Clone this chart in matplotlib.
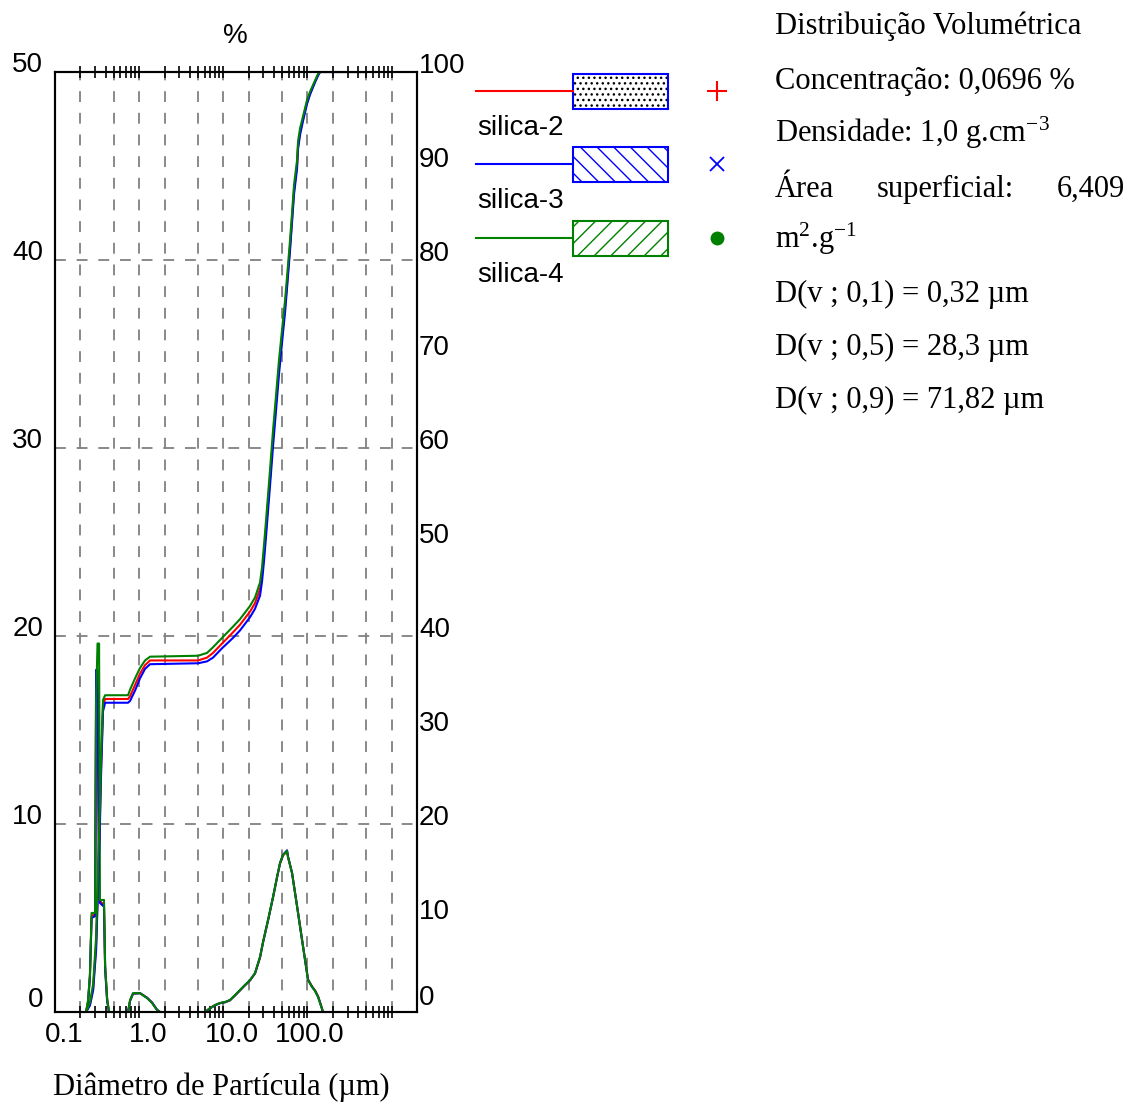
import numpy as np
import matplotlib
matplotlib.use('Agg')
import matplotlib.pyplot as plt
from matplotlib.patches import Rectangle
from matplotlib.ticker import NullFormatter
from matplotlib.transforms import ScaledTranslation

plt.rcParams['font.family'] = ['Liberation Sans', 'DejaVu Sans']
plt.rcParams['mathtext.default'] = 'regular'
plt.rcParams['hatch.linewidth'] = 1.0

nan = np.nan

# frequency curves: particle size (um) vs volume % (left axis), nan = gap
size_freq = [0.117, 0.1235, 0.130, 0.136, 0.150, 0.154, 0.160, 0.167, 0.171, 0.191, 0.197, 0.208, 0.219, nan,
             0.369, 0.390, 0.423, 0.512, 0.620, 0.711, 0.815, 0.885, nan,
             3.03, 3.475, 3.98, 4.567, 5.24, 6.00, 6.89, 7.90, 9.05, 10.38, 11.90, 13.65, 14.81, 16.98,
             19.48, 21.73, 23.59, 25.60, 28.56, 29.35, 32.75, 35.55, 38.59, 43.05, 46.73, 50.72, 56.6,
             61.44, 66.68, 70.45, 76.47]
freq_s2 = [0, 0.55, 1.9, 5.1, 5.2, 17.6, 18.0, 6.8, 5.9, 5.7, 2.4, 0.7, 0, nan,
           0, 0.6, 0.98, 1.0, 0.76, 0.5, 0.12, 0, nan,
           0, 0.2, 0.36, 0.47, 0.52, 0.62, 0.88, 1.15, 1.42, 1.68, 2.05, 2.9, 3.7, 4.86, 6.1,
           7.15, 7.9, 8.33, 8.54, 8.25, 7.4, 6.35, 5.3, 3.86, 2.8, 1.74, 1.36, 1.15, 0.84, 0.52, 0]
freq_s3 = [0, 0.5, 1.9, 5.0, 5.1, 18.2, 18.2, 6.4, 5.8, 5.6, 2.3, 0.6, 0, nan,
           0, 0.6, 0.98, 1.0, 0.76, 0.5, 0.12, 0, nan,
           0, 0.2, 0.36, 0.47, 0.52, 0.63, 0.89, 1.16, 1.43, 1.69, 2.06, 2.92, 3.71, 4.88, 6.11,
           7.17, 7.92, 8.36, 8.6, 8.26, 7.4, 6.34, 5.28, 3.84, 2.78, 1.71, 1.34, 1.13, 0.82, 0.5, 0]
freq_s4 = [0, 0.64, 1.97, 5.27, 5.27, 16.6, 19.6, 19.6, 5.96, 5.96, 2.5, 0.74, 0, nan,
           0, 0.64, 1.0, 1.0, 0.74, 0.48, 0.1, 0, nan,
           0, 0.2, 0.37, 0.48, 0.53, 0.64, 0.9, 1.17, 1.44, 1.7, 2.07, 2.93, 3.72, 4.89, 6.12,
           7.18, 7.93, 8.35, 8.56, 8.24, 7.39, 6.33, 5.27, 3.83, 2.77, 1.70, 1.33, 1.12, 0.8, 0.48, 0]

# cumulative curves: particle size (um) vs undersize % (right axis)
size_cum = [0.117, 0.130, 0.142, 0.154, 0.162, 0.171, 0.176, 0.186, 0.197, 0.369,
            0.390, 0.447, 0.512, 0.587, 0.673, 2.503, 3.20, 3.77, 4.83, 6.52,
            7.90, 10.38, 11.90, 13.65, 14.41, 15.22, 16.08, 16.98, 17.94, 19.48,
            21.14, 22.95, 24.24, 25.60, 27.04, 28.56, 31.00, 32.75, 34.59, 37.55,
            38.59, 40.76, 44.24, 49.35, 53.58, 61.44, 66.68, 70.45, 254.8]
cum_s2 = [0, 0.8, 2.6, 7.2, 13.8, 21.0, 26.0, 32.6, 33.3, 33.3,
          33.6, 34.8, 36.0, 36.9, 37.4, 37.4, 37.7, 38.2, 39.2, 40.4,
          41.2, 42.6, 43.5, 45.0, 46.5, 48.8, 51.4, 54.1, 56.8, 61.0,
          64.8, 68.6, 70.8, 72.9, 75.0, 77.5, 81.4, 84.4, 87.4, 90.1,
          92.1, 93.6, 95.0, 96.8, 97.7, 99.0, 99.7, 100, 100]
cum_s3 = [0, 0.7, 2.3, 6.6, 12.8, 20.0, 25.0, 32.0, 32.9, 32.9,
          33.1, 34.2, 35.5, 36.5, 37.0, 37.1, 37.3, 37.7, 38.7, 39.8,
          40.6, 42.0, 42.9, 44.3, 45.8, 48.0, 50.6, 53.3, 56.0, 60.2,
          64.0, 67.9, 70.1, 72.3, 74.4, 77.0, 81.0, 84.0, 87.0, 89.7,
          91.8, 93.3, 94.8, 96.6, 97.6, 98.9, 99.6, 100, 100]
cum_s4 = [0, 1.0, 3.0, 8.0, 15.0, 22.0, 27.0, 33.2, 33.7, 33.7,
          34.3, 35.5, 36.6, 37.4, 37.8, 37.9, 38.2, 38.8, 39.8, 41.0,
          41.8, 43.2, 44.1, 45.7, 47.3, 49.7, 52.3, 55.0, 57.7, 61.9,
          65.6, 69.4, 71.5, 73.6, 75.7, 78.2, 82.1, 85.0, 88.0, 90.6,
          92.6, 94.0, 95.3, 97.0, 97.9, 99.1, 99.8, 100, 100]

names = ['silica-2', 'silica-3', 'silica-4']
colors = ['#ff0000', '#0000ff', '#008000']

info_lines = ['Distribuição Volumétrica', 'Concentração: 0,0696 %', 'Densidade: 1,0 g.cm$^{-3}$',
              None, 'm$^{2}$.g$^{-1}$', 'D(v ; 0,1) = 0,32 µm', 'D(v ; 0,5) = 28,3 µm',
              'D(v ; 0,9) = 71,82 µm']
area_words = ['Área', 'superficial:', '6,409']

decades = [0.1, 1, 10, 100]
W, H = 1130, 1104
fig = plt.figure(figsize=(W / 100, H / 100), dpi=100)
ax = fig.add_axes([55 / W, 1 - 1012 / H, 362 / W, 940 / H])
ax.set_xscale('log')
ax.set_xlim(0.05, 1000)
ax.set_ylim(0, 50)
ax2 = ax.twinx()
ax2.set_ylim(0, 100)

# dashed grid: 1, 2.5, 5 per decade
grid_kw = dict(color='#808080', lw=1.3, ls=(0, (6, 6)), zorder=0.5)
for b in decades:
    for m in (1, 2.5, 5):
        ax.axvline(b * m, **grid_kw)
for h in (10, 20, 30, 40):
    ax.axhline(h, **grid_kw)

for c, f in zip(colors, [freq_s2, freq_s3, freq_s4]):
    ax.plot(size_freq, f, color=c, lw=1.5, zorder=2)
for c, cu in zip(colors, [cum_s2, cum_s3, cum_s4]):
    ax2.plot(size_cum, cu, color=c, lw=1.5, zorder=2)

# ticks
ax.set_xticks(decades, ['0.1', '1.0', '10.0', '100.0'])
ax.set_xticks([b * m for b in decades for m in (1.5, 2, 2.5, 3, 3.5, 4, 4.5, 5)], minor=True)
ax.xaxis.set_minor_formatter(NullFormatter())
ax.tick_params(axis='x', which='both', direction='inout', length=9, width=1.2,
               top=True, bottom=True, pad=2.5, labelsize=20)
ax.set_yticks(range(0, 51, 10))
ax.tick_params(axis='y', length=0, pad=8.6, labelsize=20)
ax2.set_yticks(range(0, 101, 10))
ax2.tick_params(axis='y', length=0, pad=1.5, labelsize=20)
for a in (ax, ax2):
    for s in a.spines.values():
        s.set_linewidth(1.5)


def shift(lbl, dx, dy):
    lbl.set_transform(lbl.get_transform() + ScaledTranslation(dx / 100, dy / 100, fig.dpi_scale_trans))


for lbl, dx in zip(ax.get_xticklabels(), [-16, -16.5, -17, -23]):
    shift(lbl, dx, 0)
for lbl in ax.get_yticklabels():
    shift(lbl, 0, 15 if lbl.get_text() == '0' else 10)
for lbl in ax2.get_yticklabels():
    shift(lbl, 0, 17 if lbl.get_text() == '0' else 9)

fig.text(235 / W, 1 - 36 / H, '%', ha='center', va='center', fontsize=20)

# overlay in pixel units for legend and text block
ov = fig.add_axes([0, 0, 1, 1])
ov.set_xlim(0, W)
ov.set_ylim(H, 0)
ov.axis('off')

leg_y = [91, 164, 238]
markers = [dict(marker='+', ms=14, mew=1.5), dict(marker='x', ms=10, mew=1.3),
           dict(marker='o', ms=10, mew=0)]
for y, name, c, mk in zip(leg_y, names, colors, markers):
    ov.plot([476, 573], [y, y], color=c, lw=1.5)
    ov.text(477, y + 37, name, ha='left', va='center', fontsize=20)
    ov.plot([717], [y], color=c, ls='none', **mk)
ov.add_patch(Rectangle((573, leg_y[0] - 17.5), 95, 35, facecolor='white', edgecolor='black', lw=0, hatch='...'))
ov.add_patch(Rectangle((573, leg_y[0] - 17.5), 95, 35, fill=False, edgecolor=colors[1], lw=1.5))
ov.add_patch(Rectangle((573, leg_y[1] - 17.5), 95, 35, facecolor='white', edgecolor=colors[1], lw=1.5, hatch='\\\\'))
ov.add_patch(Rectangle((573, leg_y[2] - 17.5), 95, 35, facecolor='white', edgecolor=colors[2], lw=1.5, hatch='//'))

serif = dict(family=['Liberation Serif', 'DejaVu Serif'], fontsize=22)
baselines = [34, 89, 142, 197, 248, 302, 355, 408]
for yb, line in zip(baselines, info_lines):
    if line is None:
        ov.text(775, yb, area_words[0], ha='left', va='baseline', **serif)
        ov.text(877, yb, area_words[1], ha='left', va='baseline', **serif)
        ov.text(1125, yb, area_words[2], ha='right', va='baseline', **serif)
    else:
        ov.text(775, yb, line, ha='left', va='baseline', **serif)

ov.text(53, 1095, 'Diâmetro de Partícula (µm)', ha='left', va='baseline', **serif)

fig.savefig('out.png', dpi=100)
